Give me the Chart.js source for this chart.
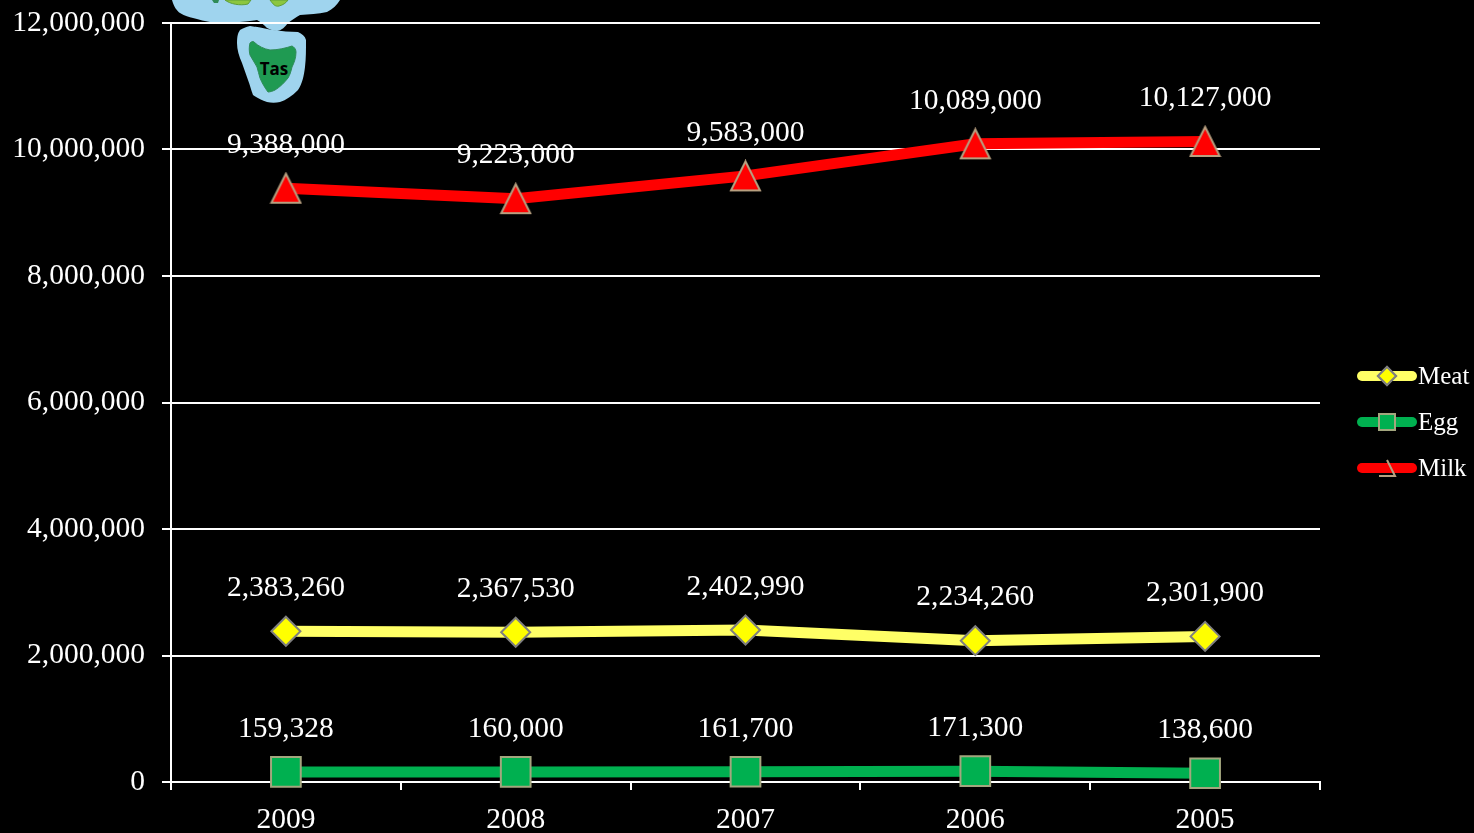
<!DOCTYPE html>
<html>
<head>
<meta charset="utf-8">
<title>Meat, Egg, Milk</title>
<script src="https://cdn.jsdelivr.net/npm/chart.js@4"></script>
<style>
    html, body { margin: 0; padding: 0; background: #000; overflow: hidden; }
    #wrap { position: relative; width: 1474px; height: 833px; }
    #chart { display: block; position: relative; z-index: 1; }
    #map { position: absolute; left: 0; top: 0; z-index: 0; }
</style>
</head>
<body>
<div id="wrap">
    <svg id="map" width="1474" height="833">
        <path fill="#9fd4ee" d="M172 0 C174 7 177 11 180 13 C185 16 189 17 193 18 C200 20 205 21 210 22 C226 23 242 22 257 20 C261 22 264 25 267 28 C271 30 274 31 277 31 C282 30 285 27 288 23 C292 20 296 17 300 15 C309 14 318 14 327 12 C333 9 337 5 340 0 Z"/>
        <path fill="#9fd4ee" d="M237 43 C237 36 238 33 240 30 C243 28 246 27 250 26 C258 27 266 29 273 30 C282 31 290 32 298 32 C302 34 305 36 306 40 C306 50 306 58 305 67 C304 76 302 84 298 90 C292 96 286 100 280 102 C276 103 271 103 267 102 C262 100 257 98 253 95 C251 90 250 85 248 80 C246 74 244 69 242 63 C239 56 237 50 237 43 Z"/>
        <path fill="#2e8b57" d="M212 0 L214 3 L218 3 L219 0 Z"/>
        <path fill="#8cc63f" stroke="#5e9e3a" d="M225 0 C230 4 240 6 248 4 L251 0 Z"/>
        <path fill="#8cc63f" stroke="#5e9e3a" d="M270 0 C273 4 275 7 279 6 C283 5 286 3 288 0 Z"/>
        <path fill="#1f9a52" stroke="#2e8b57" d="M250 43 C251 42 253 41 254 42 C258 46 264 49 270 50 C278 50 286 48 292 46 C294 47 296 49 296 52 C296 58 294 63 292 67 C291 71 290 75 288 78 C284 83 280 87 275 90 C273 91 270 92 268 92 C265 88 262 83 260 78 C259 74 258 71 257 67 C255 63 252 59 250 55 C249 51 249 47 250 43 Z"/>
        <text x="274" y="75" text-anchor="middle" font-family="Open Sans, sans-serif" font-size="17" font-weight="700" fill="#000">Tas</text>
    </svg>
    <canvas id="chart" width="1474" height="833"></canvas>
</div>
<script>
const years = ['2009', '2008', '2007', '2006', '2005'];
const meat = [2383260, 2367530, 2402990, 2234260, 2301900];
const egg = [159328, 160000, 161700, 171300, 138600];
const milk = [9388000, 9223000, 9583000, 10089000, 10127000];
const seriesNames = ['Meat', 'Egg', 'Milk'];
const lineColors = ['#ffff66', '#00b050', '#ff0000'];
const fillColors = ['#ffff00', '#00b050', '#ff0000'];
const edgeColors = ['#7f7f7f', '#a3a67e', '#b8a080'];

const serif = "'Liberation Serif', serif";
const textSize = 29.5;

// triangle sprite, chart.js own triangle sits too low on the point
function triangleSprite(w, h) {
    let c = document.createElement('canvas');
    c.width = w + 4;
    c.height = h + 4;
    let ctx = c.getContext('2d');
    ctx.beginPath();
    ctx.moveTo(c.width / 2, 2);
    ctx.lineTo(c.width - 2, c.height - 2);
    ctx.lineTo(2, c.height - 2);
    ctx.closePath();
    ctx.fillStyle = fillColors[2];
    ctx.fill();
    ctx.lineWidth = 2;
    ctx.strokeStyle = edgeColors[2];
    ctx.stroke();
    return c;
}

const valueLabels = {
    id: 'valueLabels',
    afterDatasetsDraw(chart) {
        let ctx = chart.ctx;
        ctx.save();
        ctx.font = textSize + 'px ' + serif;
        ctx.fillStyle = '#fff';
        ctx.textAlign = 'center';
        ctx.textBaseline = 'middle';
        chart.data.datasets.forEach((ds, i) => {
            chart.getDatasetMeta(i).data.forEach((pt, j) => {
                ctx.fillText(ds.data[j].toLocaleString('en-US'), pt.x, pt.y - 43);
            });
        });
        ctx.restore();
    }
};

// legend has the line running through the marker, built in one cannot do it
const lineLegend = {
    id: 'lineLegend',
    afterDraw(chart) {
        let ctx = chart.ctx;
        let rows = [376, 422, 468];
        ctx.save();
        seriesNames.forEach((name, i) => {
            let y = rows[i];
            ctx.strokeStyle = lineColors[i];
            ctx.lineWidth = 10;
            ctx.lineCap = 'round';
            ctx.beginPath();
            ctx.moveTo(1362, y);
            ctx.lineTo(1412, y);
            ctx.stroke();

            ctx.lineCap = 'butt';
            ctx.lineWidth = 2;
            ctx.strokeStyle = edgeColors[i];
            ctx.fillStyle = fillColors[i];
            if (i == 0) {
                Chart.helpers.drawPoint(ctx, { pointStyle: 'rectRot', radius: 9, borderWidth: 2 }, 1387, y);
                ctx.fill();
                ctx.stroke();
            } else if (i == 1) {
                ctx.fillRect(1379, y - 8, 16, 16);
                ctx.strokeRect(1379, y - 8, 16, 16);
            } else {
                // only the right and bottom edge show on the original
                ctx.beginPath();
                ctx.moveTo(1387, y - 8);
                ctx.lineTo(1395, y + 8);
                ctx.lineTo(1379, y + 8);
                ctx.stroke();
            }

            ctx.fillStyle = '#fff';
            ctx.font = '25px ' + serif;
            ctx.textAlign = 'left';
            ctx.textBaseline = 'middle';
            ctx.fillText(name, 1418, y + 1);
        });
        ctx.restore();
    }
};

function makeDataset(label, values, i, style, radius) {
    return {
        label: label,
        data: values,
        clip: false,
        borderColor: lineColors[i],
        borderWidth: 11,
        borderCapStyle: 'round',
        tension: 0,
        pointStyle: style,
        pointRadius: radius,
        pointHoverRadius: radius,
        pointBackgroundColor: fillColors[i],
        pointBorderColor: edgeColors[i],
        pointBorderWidth: 2
    };
}

new Chart('chart', {
    type: 'line',
    data: {
        labels: years,
        datasets: [
            makeDataset('Meat', meat, 0, 'rectRot', 14.5),
            makeDataset('Egg', egg, 1, 'rect', 21),
            makeDataset('Milk', milk, 2, triangleSprite(29, 29), 16)
        ]
    },
    options: {
        responsive: false,
        animation: false,
        layout: { padding: { top: 22, right: 154, left: 0, bottom: 0 } },
        plugins: {
            legend: { display: false },
            tooltip: { enabled: false }
        },
        scales: {
            x: {
                offset: true,
                afterFit(scale) { scale.height = 51; },
                grid: {
                    offset: true,
                    drawOnChartArea: false,
                    color: '#fff',
                    lineWidth: 2,
                    tickLength: 8
                },
                border: { color: '#fff', width: 2 },
                ticks: {
                    color: '#fff',
                    padding: 13,
                    maxRotation: 0,
                    font: { family: serif, size: textSize }
                }
            },
            y: {
                min: 0,
                max: 12000000,
                afterFit(scale) {
                    scale.width = 171;
                    // tick padding otherwise pushes the plot top down
                    scale.paddingTop = 0;
                    scale.paddingBottom = 0;
                },
                grid: {
                    color: '#fff',
                    lineWidth: 2,
                    tickLength: 9
                },
                border: { color: '#fff', width: 2 },
                ticks: {
                    stepSize: 2000000,
                    color: '#fff',
                    padding: 17,
                    font: { family: serif, size: textSize },
                    callback: v => v.toLocaleString('en-US')
                }
            }
        }
    },
    plugins: [valueLabels, lineLegend]
});
</script>
</body>
</html>
